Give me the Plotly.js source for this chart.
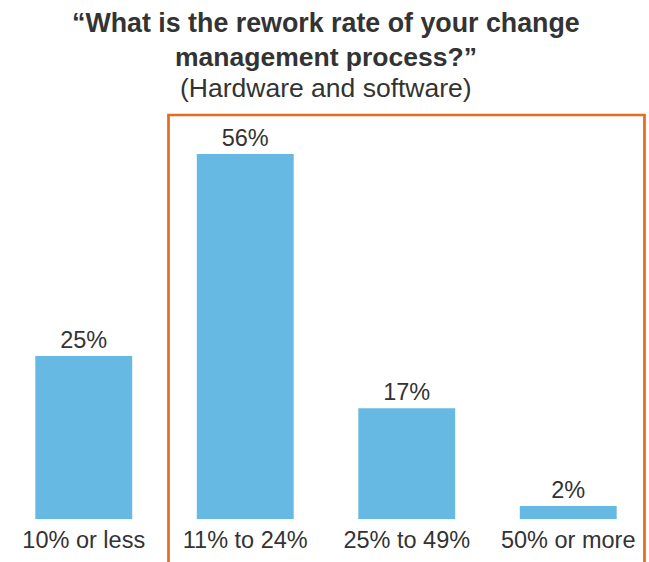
<!DOCTYPE html>
<html>
<head>
<meta charset="utf-8">
<script src="https://cdn.plot.ly/plotly-3.0.1.min.js"></script>
<style>html,body{margin:0;padding:0;background:#fff;}#chart{width:649px;height:562px;}</style>
</head>
<body>
<div id="chart"></div>
<script>
const categories = ["10% or less", "11% to 24%", "25% to 49%", "50% or more"];
const shares = [25, 56, 17, 2];
const titleLines = ["“What is the rework rate of your change", "management process?”"];
const subtitle = "(Hardware and software)";

const labels = shares.map(v => v + "%");
const FONT = "Liberation Sans, Arial, sans-serif";

const trace = {
  type: "bar",
  x: categories,
  y: shares,
  text: labels,
  textposition: "outside",
  cliponaxis: false,
  textfont: {family: FONT, size: 23.5, color: "#333333"},
  marker: {color: "#65B9E2"},
  hoverinfo: "none"
};

// header lines: paper y for centers at ~23, 57, 88.5 px (plot top 115, bottom 519)
const headerY = [1.2277, 1.1436, 1.0656];
const headerSize = [26.8, 26.5, 26.5];
const headerText = ["<b>" + titleLines[0] + "</b>", "<b>" + titleLines[1] + "</b>", subtitle];
const annotations = headerText.map((t, i) => ({
  text: t, xref: "paper", yref: "paper",
  x: 0.5, y: headerY[i], xanchor: "center", yanchor: "middle",
  showarrow: false,
  font: {family: FONT, size: headerSize[i], color: "#333333"}
}));

const layout = {
  width: 649,
  height: 562,
  margin: {l: 3, r: 0, t: 115, b: 43},
  paper_bgcolor: "#ffffff",
  plot_bgcolor: "#ffffff",
  bargap: 0.4,
  showlegend: false,
  font: {family: FONT, color: "#333333"},
  annotations: annotations,
  xaxis: {
    type: "category",
    showgrid: false, zeroline: false, showline: false,
    ticks: "",
    ticklabelstandoff: 4,
    tickfont: {family: FONT, size: 23.5, color: "#333333"},
    fixedrange: true
  },
  yaxis: {
    range: [0, 62],
    visible: false,
    showgrid: false, zeroline: false,
    fixedrange: true
  },
  shapes: [{
    type: "rect",
    xref: "paper", yref: "paper",
    x0: 0.2562, x1: 0.993, y0: -0.5, y1: 1,
    line: {color: "#E46C1F", width: 2.7},
    fillcolor: "rgba(0,0,0,0)"
  }]
};

Plotly.newPlot("chart", [trace], layout, {staticPlot: true, displayModeBar: false});
</script>
</body>
</html>
